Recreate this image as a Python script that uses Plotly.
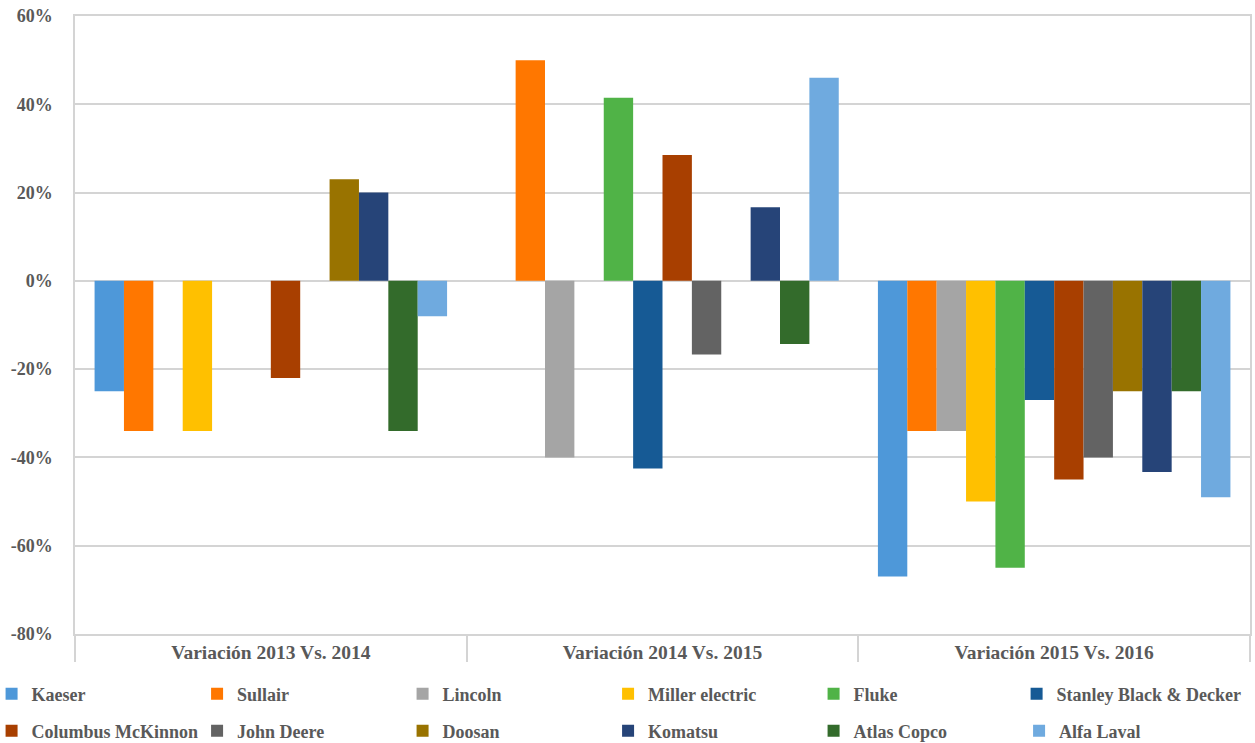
import plotly.graph_objects as go

categories = ["Variación 2013 Vs. 2014", "Variación 2014 Vs. 2015", "Variación 2015 Vs. 2016"]

series_names = ["Kaeser", "Sullair", "Lincoln", "Miller electric", "Fluke",
                "Stanley Black & Decker", "Columbus McKinnon", "John Deere",
                "Doosan", "Komatsu", "Atlas Copco", "Alfa Laval"]

kaeser = [-0.25, None, -0.67]
sullair = [-0.34, 0.50, -0.34]
lincoln = [None, -0.40, -0.34]
miller_electric = [-0.34, None, -0.50]
fluke = [None, 0.415, -0.65]
stanley = [None, -0.425, -0.27]
columbus = [-0.22, 0.285, -0.45]
john_deere = [None, -0.167, -0.40]
doosan = [0.23, None, -0.25]
komatsu = [0.20, 0.167, -0.433]
atlas_copco = [-0.34, -0.143, -0.25]
alfa_laval = [-0.08, 0.46, -0.49]

series_values = [kaeser, sullair, lincoln, miller_electric, fluke, stanley,
                 columbus, john_deere, doosan, komatsu, atlas_copco, alfa_laval]

colors = ["#4E98D9", "#FF7700", "#A5A5A5", "#FFC000", "#50B347", "#165A95",
          "#A83F00", "#636363", "#997300", "#264478", "#336B2B", "#6FAADF"]

tick_vals = [-0.8, -0.6, -0.4, -0.2, 0.0, 0.2, 0.4, 0.6]
tick_text = ["-80%", "-60%", "-40%", "-20%", "0%", "20%", "40%", "60%"]

FONT = "Liberation Serif"
TXT = "#595959"

legend_of = ["legend"] * 5 + ["legend3"] + ["legend2"] * 6

fig = go.Figure()
for name, vals, col, lg in zip(series_names, series_values, colors, legend_of):
    fig.add_trace(go.Bar(
        name=name, x=categories, y=vals,
        marker=dict(color=col, line=dict(width=0)),
        legend=lg,
    ))

legend_font = dict(family=FONT, size=18, color=TXT, weight="bold")
legend_common = dict(
    orientation="h",
    xref="paper", yref="paper",
    xanchor="left", yanchor="middle",
    font=legend_font,
    bgcolor="rgba(0,0,0,0)",
    borderwidth=0,
    itemclick=False,
)

# plot area: y from 16 (top) to 634 (bottom) -> 618 px ; x from 75 to 1250 -> 1175 px
row1_y = (634 - 694) / 618
row2_y = (634 - 731) / 618

fig.update_layout(
    width=1255, height=743,
    margin=dict(l=75, r=5, t=16, b=109, autoexpand=False),
    plot_bgcolor="white", paper_bgcolor="white",
    barmode="group", bargap=0.1, bargroupgap=0,
    showlegend=True,
    legend=dict(y=row1_y, x=-0.071, entrywidth=160.5, entrywidthmode="pixels", **legend_common),
    legend2=dict(y=row2_y, x=-0.071, entrywidth=160.5, entrywidthmode="pixels", **legend_common),
    legend3=dict(y=row1_y, x=(1016.6 - 75) / 1175, **legend_common),
    xaxis=dict(
        type="category",
        tickson="boundaries", ticks="outside", ticklen=26, tickwidth=1.5, tickcolor="#D4D4D4",
        showgrid=False, showline=True, linecolor="#D4D4D4", linewidth=1.5, mirror=True,
        tickfont=dict(family=FONT, size=19.5, color=TXT, weight="bold"),
        ticklabelstandoff=0,
    ),
    yaxis=dict(
        range=[-0.8, 0.6], tickvals=tick_vals, ticktext=tick_text,
        showgrid=True, gridcolor="#D4D4D4", gridwidth=1.5,
        zeroline=True, zerolinecolor="#D4D4D4", zerolinewidth=1.5,
        showline=True, linecolor="#D4D4D4", linewidth=1.5, mirror=True,
        ticks="", ticklabelstandoff=17,
        tickfont=dict(family=FONT, size=18, color=TXT, weight="bold"),
    ),
)

fig.write_html("out.html")
